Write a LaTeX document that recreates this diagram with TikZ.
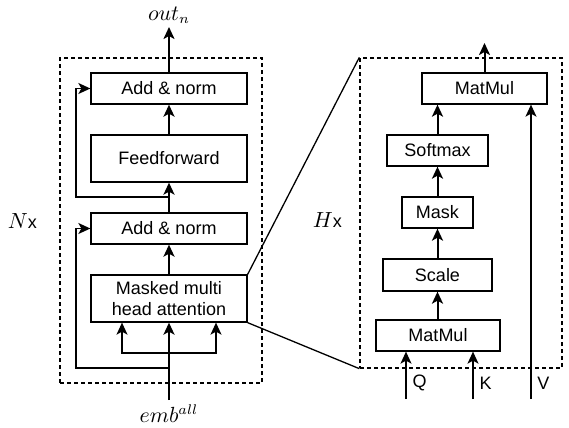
\documentclass[tikz,border=0pt]{standalone}
\usepackage{fontspec}
\setmainfont{Liberation Sans}
\usetikzlibrary{arrows.meta}

\begin{document}
\begin{tikzpicture}[x=0.5pt, y=-0.5pt,
  block/.style={draw, line width=0.65pt, inner sep=0pt, align=center, font=\fontsize{9}{10.5}\selectfont},
  frame/.style={draw, dash pattern=on 2pt off 1.5pt, line width=0.65pt, inner sep=0pt},
  arr/.style={-{Stealth[length=6pt, width=5.5pt, inset=1.5pt]}, line width=1pt},
  thinarr/.style={-{Stealth[length=6pt, width=5.5pt, inset=1.5pt]}, line width=0.7pt},
  lbl/.style={font=\fontsize{9}{10.5}\selectfont},
  mlbl/.style={font=\fontsize{10.5}{12}\selectfont}]

\useasboundingbox (0,0) rectangle (569,428);

% outer frames
\node[frame, minimum width=101pt, minimum height=162.5pt] (nbox) at (161,220.5) {};
\node[frame, minimum width=101pt, minimum height=155pt] (hbox) at (461,213) {};
\node[mlbl, anchor=east] (nlabel) at (44,221) {$N$\fontsize{9}{10.5}\selectfont x};
\node[mlbl, anchor=east] (hlabel) at (349,220) {$H$\fontsize{9}{10.5}\selectfont x};

% decoder layer
\node[block, minimum width=78pt, minimum height=15.5pt] (add1) at (169,88.5) {Add \& norm};
\node[block, minimum width=78pt, minimum height=23.5pt] (ff) at (169,158.5) {Feedforward};
\node[block, minimum width=78pt, minimum height=15.5pt] (add2) at (169,228.5) {Add \& norm};
\node[block, minimum width=78pt, minimum height=23.5pt] (mha) at (169,298.5) {Masked multi\\head attention};

\node[mlbl] (outn) at (169,15) {$out_n$};
\node[mlbl] (emb) at (169,414) {$emb^{all}$};
\coordinate (outtip) at (169,27);
\coordinate (embend) at (169,400);
\coordinate (j1) at (169,197);
\coordinate (j2) at (169,368);
\coordinate (fan) at (169,353);

\draw[arr] (add1.north) -- (outtip);
\draw[arr] (ff.north) -- (add1.south);
\draw[arr] (add2.north) -- (ff.south);
\draw[arr] (mha.north) -- (add2.south);
\draw[arr] (embend) -- (mha.south);

% fan into attention
\draw[thinarr] (fan) -| ([xshift=-23.5pt]mha.south);
\draw[thinarr] (fan) -| ([xshift=23.5pt]mha.south);

% residual connections
\draw[thinarr] (j1) -- (76,197) |- (add1.west);
\draw[thinarr] (j2) -- (76,368) |- (add2.west);

% attention head
\node[block, minimum width=62.5pt, minimum height=15.5pt] (mm2) at (484.5,88.5) {MatMul};
\node[block, minimum width=50.5pt, minimum height=15.5pt] (soft) at (437.5,150.5) {Softmax};
\node[block, minimum width=35.5pt, minimum height=15.5pt] (mask) at (437.5,212.5) {Mask};
\node[block, minimum width=54.5pt, minimum height=16pt] (scale) at (437.5,275) {Scale};
\node[block, minimum width=62pt, minimum height=15.5pt] (mm1) at (438,335.5) {MatMul};

\coordinate (hout) at (484.5,43);
\coordinate (q) at (406,399);
\coordinate (k) at (473,399);
\coordinate (v) at (531,399);

\draw[arr] (mm2.north) -- (hout);
\draw[arr] (soft.north) -- (soft.north |- mm2.south);
\draw[arr] (mask.north) -- (soft.south);
\draw[arr] (scale.north) -- (mask.south);
\draw[arr] ([xshift=-0.25pt]mm1.north) -- (scale.south);

\draw[thinarr] (q) -- (q |- mm1.south) node[lbl, pos=0.33, right, inner sep=3pt] (qlabel) {Q};
\draw[thinarr] (k) -- (k |- mm1.south) node[lbl, pos=0.33, right, inner sep=3pt] (klabel) {K};
\draw[thinarr] (v) -- (v |- mm2.south);
\node[lbl, anchor=west, inner sep=3pt] (vlabel) at (531,383) {V};

% zoom lines
\draw[line width=0.65pt] (mha.north east) -- (hbox.north west);
\draw[line width=0.65pt] (mha.south east) -- (hbox.south west);

\end{tikzpicture}
\end{document}
